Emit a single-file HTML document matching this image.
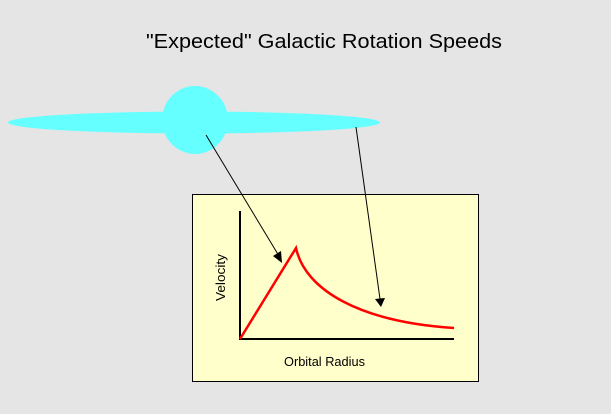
<!DOCTYPE html>
<html><head><style>html,body{margin:0;padding:0;background:#e5e5e5;}svg{display:block}</style></head>
<body>
<svg width="611" height="414" viewBox="0 0 611 414" xmlns="http://www.w3.org/2000/svg">
<rect width="611" height="414" fill="#e5e5e5"/>
<text x="146" y="48" font-family="Liberation Sans, sans-serif" font-size="20" textLength="356" lengthAdjust="spacingAndGlyphs" fill="#000">"Expected" Galactic Rotation Speeds</text>
<ellipse cx="194" cy="122.5" rx="186" ry="11" fill="#66ffff"/>
<ellipse cx="195" cy="120" rx="33" ry="34" fill="#66ffff"/>
<rect x="192.5" y="194.5" width="286" height="187" fill="#ffffcc" stroke="#000" stroke-width="1"/>
<line x1="240" y1="211" x2="240" y2="340" stroke="#000" stroke-width="2"/>
<line x1="240" y1="339" x2="454" y2="339" stroke="#000" stroke-width="2"/>
<path d="M240,339 L296,248 C305,290 360,322 454,328" fill="none" stroke="#f00" stroke-width="2.5"/>
<line x1="206" y1="135" x2="279" y2="256" stroke="#000" stroke-width="1"/>
<polygon points="282,263 273,256 281,251" fill="#000"/>
<line x1="356" y1="127" x2="380" y2="299" stroke="#000" stroke-width="1"/>
<polygon points="381,307 375,299 385,298" fill="#000"/>
<text transform="translate(225,301) rotate(-90)" font-family="Liberation Sans, sans-serif" font-size="12.5" textLength="47" lengthAdjust="spacingAndGlyphs" fill="#000">Velocity</text>
<text x="284" y="366" font-family="Liberation Sans, sans-serif" font-size="12.5" textLength="81" lengthAdjust="spacingAndGlyphs" fill="#000">Orbital Radius</text>
</svg>
</body></html>
